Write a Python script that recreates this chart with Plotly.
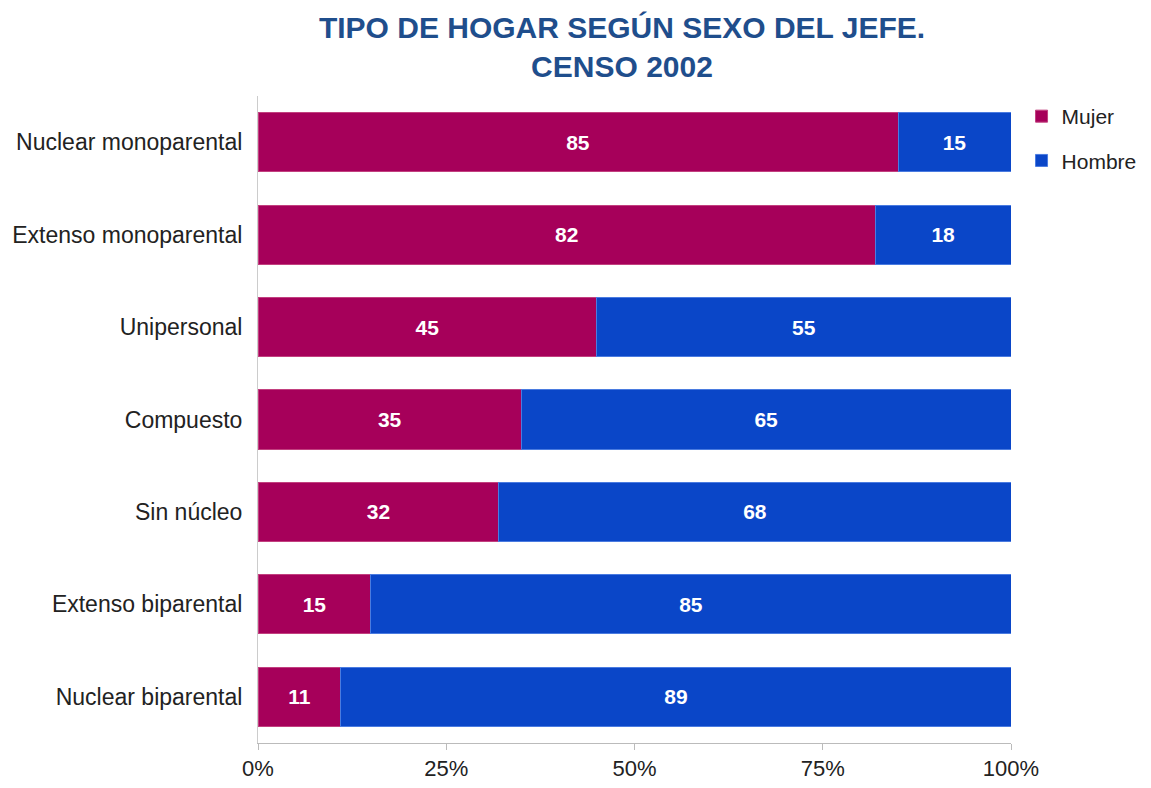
import plotly.graph_objects as go

categories = ["Nuclear monoparental", "Extenso monoparental", "Unipersonal",
              "Compuesto", "Sin núcleo", "Extenso biparental", "Nuclear biparental"]
mujer = [85, 82, 45, 35, 32, 15, 11]
hombre = [15, 18, 55, 65, 68, 85, 89]
x_ticks = [0, 25, 50, 75, 100]
x_tick_labels = ["0%", "25%", "50%", "75%", "100%"]

FONT = "Liberation Sans, Arial"

fig = go.Figure()
fig.add_trace(go.Bar(
    y=categories, x=mujer, name="Mujer", orientation="h", legendgroup="m",
    marker=dict(color="#A6005A", line=dict(color="#C2407F", width=1)),
    text=mujer, textposition="inside", insidetextanchor="middle",
    textfont=dict(color="white", size=21, family=FONT, weight="bold"),
))
fig.add_trace(go.Bar(
    y=categories, x=hombre, name="Hombre", orientation="h", legendgroup="h",
    marker=dict(color="#0A46C8", line=dict(color="#4A7BE0", width=1)),
    text=hombre, textposition="inside", insidetextanchor="middle",
    textfont=dict(color="white", size=21, family=FONT, weight="bold"),
))

fig.update_layout(
    barmode="stack",
    bargap=0.36,
    width=1151, height=788,
    margin=dict(l=250, r=148, t=88, b=53, autoexpand=False),
    paper_bgcolor="white", plot_bgcolor="white",
    font=dict(family=FONT, size=22, color="#222222"),
    title=dict(text="<b>TIPO DE HOGAR SEGÚN SEXO DEL JEFE.<br>CENSO 2002</b>",
               x=614 / 1151, xanchor="center", xref="container",
               y=1 - 30 / 788, yanchor="middle", yref="container",
               font=dict(size=30, color="#1F4E8C", family=FONT)),
    legend=dict(x=1.014, y=1.0, xanchor="left", yanchor="top",
                font=dict(size=21, color="#222222"), tracegroupgap=14,
                itemwidth=30, traceorder="grouped", bgcolor="rgba(0,0,0,0)"),
)
fig.update_xaxes(range=[0, 100], tickvals=x_ticks, ticktext=x_tick_labels,
                 showgrid=False, zeroline=False, showline=True, linecolor="#BBBBBB",
                 ticks="outside", tickcolor="#BBBBBB", ticklen=6, automargin=False,
                 tickfont=dict(size=22, color="#222222"))
fig.update_yaxes(categoryorder="array", categoryarray=categories[::-1],
                 showgrid=False, showline=True, linecolor="#CCCCCC", automargin=False,
                 ticks="", ticklabelstandoff=10, tickfont=dict(size=23, color="#222222"))

fig.write_html("out.html")
